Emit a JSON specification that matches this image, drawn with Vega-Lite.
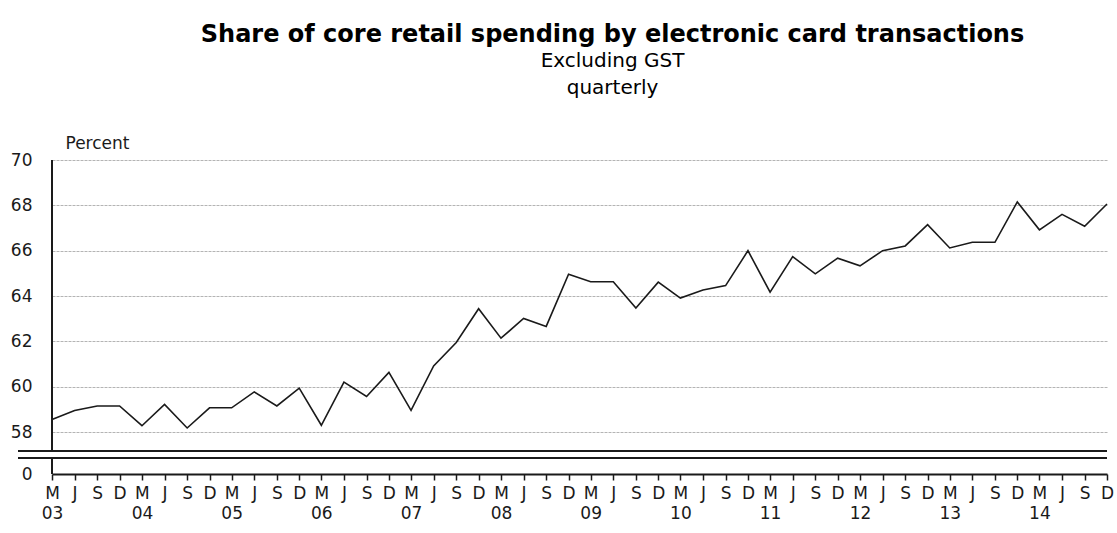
{
  "$schema": "https://vega.github.io/schema/vega-lite/v6.json",
  "width": 1055,
  "height": 314,
  "autosize": {"type": "none"},
  "padding": {"left": 52, "top": 160, "right": 10, "bottom": 59},
  "title": {
    "text": "Share of core retail spending by electronic card transactions",
    "subtitle": ["Excluding GST", "quarterly"],
    "anchor": "middle",
    "dx": 33,
    "offset": 36,
    "font": "DejaVu Sans",
    "fontSize": 24,
    "fontWeight": "bold",
    "color": "#000000",
    "subtitleFont": "DejaVu Sans",
    "subtitleFontSize": 20,
    "subtitleColor": "#000000",
    "subtitleLineHeight": 27,
    "subtitlePadding": 4
  },
  "data": {
    "values": [
      {"date": "2003-03-15", "share": 58.55},
      {"date": "2003-06-15", "share": 58.95},
      {"date": "2003-09-15", "share": 59.15},
      {"date": "2003-12-15", "share": 59.15},
      {"date": "2004-03-15", "share": 58.28},
      {"date": "2004-06-15", "share": 59.22},
      {"date": "2004-09-15", "share": 58.18},
      {"date": "2004-12-15", "share": 59.07},
      {"date": "2005-03-15", "share": 59.07},
      {"date": "2005-06-15", "share": 59.77},
      {"date": "2005-09-15", "share": 59.15},
      {"date": "2005-12-15", "share": 59.94},
      {"date": "2006-03-15", "share": 58.3},
      {"date": "2006-06-15", "share": 60.2},
      {"date": "2006-09-15", "share": 59.57},
      {"date": "2006-12-15", "share": 60.63},
      {"date": "2007-03-15", "share": 58.96},
      {"date": "2007-06-15", "share": 60.92},
      {"date": "2007-09-15", "share": 61.95},
      {"date": "2007-12-15", "share": 63.44},
      {"date": "2008-03-15", "share": 62.14},
      {"date": "2008-06-15", "share": 63.01},
      {"date": "2008-09-15", "share": 62.66},
      {"date": "2008-12-15", "share": 64.96},
      {"date": "2009-03-15", "share": 64.63},
      {"date": "2009-06-15", "share": 64.63},
      {"date": "2009-09-15", "share": 63.47},
      {"date": "2009-12-15", "share": 64.61},
      {"date": "2010-03-15", "share": 63.91},
      {"date": "2010-06-15", "share": 64.27},
      {"date": "2010-09-15", "share": 64.46},
      {"date": "2010-12-15", "share": 66.0},
      {"date": "2011-03-15", "share": 64.17},
      {"date": "2011-06-15", "share": 65.74},
      {"date": "2011-09-15", "share": 64.98},
      {"date": "2011-12-15", "share": 65.67},
      {"date": "2012-03-15", "share": 65.33},
      {"date": "2012-06-15", "share": 66.0},
      {"date": "2012-09-15", "share": 66.21},
      {"date": "2012-12-15", "share": 67.15},
      {"date": "2013-03-15", "share": 66.12},
      {"date": "2013-06-15", "share": 66.37},
      {"date": "2013-09-15", "share": 66.37},
      {"date": "2013-12-15", "share": 68.15},
      {"date": "2014-03-15", "share": 66.92},
      {"date": "2014-06-15", "share": 67.6},
      {"date": "2014-09-15", "share": 67.08},
      {"date": "2014-12-15", "share": 68.06}
    ]
  },
  "layer": [
    {
      "mark": {"type": "line", "color": "#1a1a1a", "strokeWidth": 1.6},
      "encoding": {
        "x": {
          "field": "date",
          "type": "temporal",
          "scale": {
            "domain": [
              {"year": 2003, "month": 3, "date": 15},
              {"year": 2014, "month": 12, "date": 15}
            ],
            "nice": false
          },
          "axis": {
            "title": null,
            "grid": false,
            "tickCount": 100,
            "values": [
              {"year": 2003, "month": 3, "date": 15}, {"year": 2003, "month": 6, "date": 15}, {"year": 2003, "month": 9, "date": 15}, {"year": 2003, "month": 12, "date": 15},
              {"year": 2004, "month": 3, "date": 15}, {"year": 2004, "month": 6, "date": 15}, {"year": 2004, "month": 9, "date": 15}, {"year": 2004, "month": 12, "date": 15},
              {"year": 2005, "month": 3, "date": 15}, {"year": 2005, "month": 6, "date": 15}, {"year": 2005, "month": 9, "date": 15}, {"year": 2005, "month": 12, "date": 15},
              {"year": 2006, "month": 3, "date": 15}, {"year": 2006, "month": 6, "date": 15}, {"year": 2006, "month": 9, "date": 15}, {"year": 2006, "month": 12, "date": 15},
              {"year": 2007, "month": 3, "date": 15}, {"year": 2007, "month": 6, "date": 15}, {"year": 2007, "month": 9, "date": 15}, {"year": 2007, "month": 12, "date": 15},
              {"year": 2008, "month": 3, "date": 15}, {"year": 2008, "month": 6, "date": 15}, {"year": 2008, "month": 9, "date": 15}, {"year": 2008, "month": 12, "date": 15},
              {"year": 2009, "month": 3, "date": 15}, {"year": 2009, "month": 6, "date": 15}, {"year": 2009, "month": 9, "date": 15}, {"year": 2009, "month": 12, "date": 15},
              {"year": 2010, "month": 3, "date": 15}, {"year": 2010, "month": 6, "date": 15}, {"year": 2010, "month": 9, "date": 15}, {"year": 2010, "month": 12, "date": 15},
              {"year": 2011, "month": 3, "date": 15}, {"year": 2011, "month": 6, "date": 15}, {"year": 2011, "month": 9, "date": 15}, {"year": 2011, "month": 12, "date": 15},
              {"year": 2012, "month": 3, "date": 15}, {"year": 2012, "month": 6, "date": 15}, {"year": 2012, "month": 9, "date": 15}, {"year": 2012, "month": 12, "date": 15},
              {"year": 2013, "month": 3, "date": 15}, {"year": 2013, "month": 6, "date": 15}, {"year": 2013, "month": 9, "date": 15}, {"year": 2013, "month": 12, "date": 15},
              {"year": 2014, "month": 3, "date": 15}, {"year": 2014, "month": 6, "date": 15}, {"year": 2014, "month": 9, "date": 15}, {"year": 2014, "month": 12, "date": 15}
            ],
            "labelExpr": "month(datum.value) == 2 ? ['M', timeFormat(datum.value, '%y')] : month(datum.value) == 5 ? 'J' : month(datum.value) == 8 ? 'S' : 'D'",
            "labelAngle": 0,
            "labelAlign": "center",
            "labelBaseline": "top",
            "labelLineHeight": 20,
            "labelPadding": 5,
            "labelOverlap": false,
            "labelFlush": false,
            "labelFontSize": 17,
            "labelColor": "#1a1a1a",
            "tickSize": 6,
            "tickColor": "#1a1a1a",
            "tickWidth": 1.5,
            "domainColor": "#1a1a1a",
            "domainWidth": 2
          }
        },
        "y": {
          "field": "share",
          "type": "quantitative",
          "scale": {"domain": [56.15, 70], "nice": false, "zero": false},
          "axis": {
            "title": "Percent",
            "titleAngle": 0,
            "titleAlign": "left",
            "titleBaseline": "alphabetic",
            "titleX": 13,
            "titleY": -12,
            "titleFontSize": 17,
            "titleFontWeight": "normal",
            "titleColor": "#1a1a1a",
            "values": [56.15, 58, 60, 62, 64, 66, 68, 70],
            "labelExpr": "datum.value < 57 ? '0' : datum.label",
            "labelFontSize": 17,
            "labelColor": "#1a1a1a",
            "labelPadding": 20,
            "ticks": false,
            "domain": false,
            "grid": true,
            "gridColor": "#b4b4b4",
            "gridDash": [3, 1],
            "gridWidth": 1,
            "gridOpacity": {"condition": {"test": "datum.value < 57", "value": 0}, "value": 1}
          }
        }
      }
    },
    {
      "mark": {"type": "rule", "color": "#1a1a1a", "strokeWidth": 2},
      "encoding": {
        "x": {"datum": {"year": 2003, "month": 3, "date": 15}, "type": "temporal"},
        "y": {"datum": 57.2},
        "y2": {"datum": 70}
      }
    },
    {
      "mark": {"type": "rule", "color": "#1a1a1a", "strokeWidth": 2},
      "encoding": {
        "x": {"datum": {"year": 2003, "month": 3, "date": 15}, "type": "temporal"},
        "y": {"datum": 56.15},
        "y2": {"datum": 56.855}
      }
    },
    {
      "mark": {"type": "rule", "color": "#1a1a1a", "strokeWidth": 2},
      "encoding": {
        "x": {"datum": {"year": 2002, "month": 10, "date": 28}, "type": "temporal"},
        "x2": {"datum": {"year": 2014, "month": 12, "date": 15}},
        "y": {"datum": 57.16}
      }
    },
    {
      "mark": {"type": "rule", "color": "#1a1a1a", "strokeWidth": 2},
      "encoding": {
        "x": {"datum": {"year": 2002, "month": 10, "date": 28}, "type": "temporal"},
        "x2": {"datum": {"year": 2014, "month": 12, "date": 15}},
        "y": {"datum": 56.855}
      }
    }
  ],
  "config": {
    "font": "DejaVu Sans",
    "view": {"stroke": null}
  }
}
